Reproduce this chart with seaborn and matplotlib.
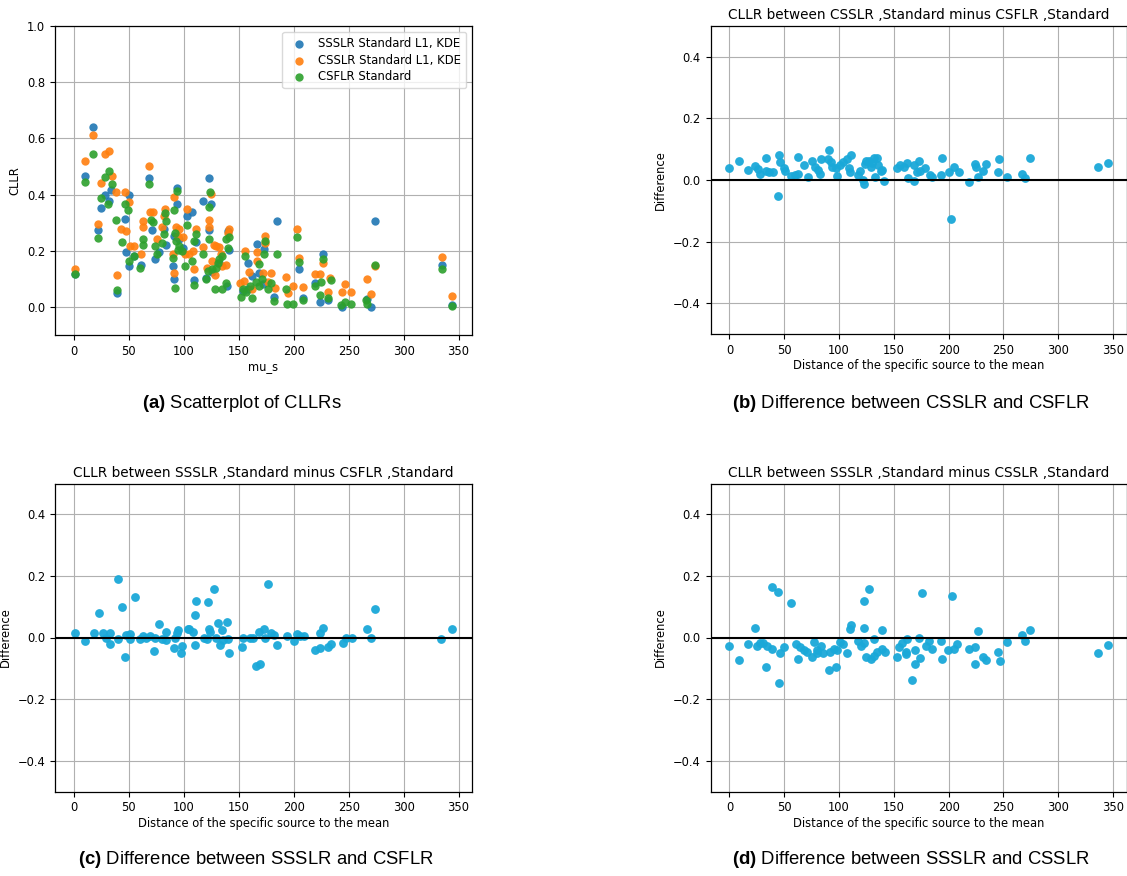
import matplotlib
matplotlib.use("Agg")
import matplotlib.pyplot as plt
import seaborn as sns
import pandas as pd

# ---------------- data ----------------
# Panel (a): CLLR values against mu_s
csflr_x = [0.6, 10, 17, 22, 25, 28, 31, 32, 35, 38.5, 39, 44, 46, 49, 50, 55, 60, 63, 63, 68, 70, 72, 74, 76,
           80, 82, 83, 84, 90, 91, 92, 92, 93, 94, 95, 96, 98, 101, 103, 107, 109, 109, 111, 117, 120, 122,
           123, 123, 124, 126, 128, 129, 131, 132, 135, 135, 138, 138, 140, 141, 152, 154, 156, 157, 160,
           162, 166, 168, 168, 171, 173, 174, 177, 179, 182, 185, 193, 194, 199, 203, 205, 208, 219, 224,
           225, 227, 231, 234, 243, 247, 252, 266, 267, 274, 335, 344]
csflr_y = [0.116, 0.443, 0.544, 0.246, 0.388, 0.461, 0.368, 0.485, 0.437, 0.309, 0.059, 0.232, 0.366, 0.346,
           0.163, 0.183, 0.139, 0.240, 0.219, 0.437, 0.311, 0.301, 0.216, 0.187, 0.228, 0.258, 0.334, 0.305,
           0.175, 0.344, 0.069, 0.264, 0.234, 0.411, 0.204, 0.216, 0.199, 0.145, 0.293, 0.163, 0.234, 0.077,
           0.258, 0.187, 0.098, 0.128, 0.243, 0.356, 0.409, 0.134, 0.063, 0.139, 0.157, 0.169, 0.063, 0.181,
           0.086, 0.240, 0.210, 0.249, 0.035, 0.063, 0.181, 0.053, 0.074, 0.030, 0.089, 0.074, 0.154, 0.098,
           0.187, 0.234, 0.063, 0.086, 0.021, 0.187, 0.065, 0.012, 0.012, 0.249, 0.161, 0.024, 0.074, 0.041,
           0.089, 0.169, 0.030, 0.095, 0.006, 0.019, 0.009, 0.024, 0.009, 0.148, 0.136, 0.004]

csslr_x = [0.6, 10, 17, 22, 25, 28, 32, 35, 38, 39, 43, 46, 47, 50, 51, 55, 61, 63, 63, 68, 69, 72, 76, 80,
           82, 83, 91, 91, 90, 93, 95, 96, 99, 101, 103, 105, 108, 109, 111, 117, 121, 123, 123, 125, 126,
           127, 128, 129, 132, 134, 135, 138, 141, 140, 151, 155, 156, 159, 162, 167, 167, 172, 174, 174,
           177, 179, 183, 193, 195, 199, 203, 205, 208, 219, 224, 227, 231, 233, 244, 247, 252, 267, 270,
           274, 335, 344]
csslr_y = [0.134, 0.520, 0.612, 0.296, 0.441, 0.544, 0.556, 0.465, 0.409, 0.112, 0.278, 0.409, 0.272, 0.374,
           0.216, 0.216, 0.190, 0.307, 0.284, 0.502, 0.338, 0.337, 0.242, 0.284, 0.325, 0.349, 0.391, 0.122,
           0.190, 0.284, 0.252, 0.278, 0.249, 0.189, 0.349, 0.187, 0.199, 0.134, 0.278, 0.214, 0.139, 0.309,
           0.284, 0.402, 0.163, 0.219, 0.112, 0.216, 0.214, 0.187, 0.145, 0.148, 0.278, 0.264, 0.086, 0.092,
           0.199, 0.124, 0.065, 0.195, 0.163, 0.122, 0.252, 0.228, 0.089, 0.119, 0.069, 0.106, 0.051, 0.074,
           0.278, 0.173, 0.072, 0.116, 0.116, 0.157, 0.053, 0.104, 0.053, 0.083, 0.054, 0.098, 0.047, 0.145,
           0.178, 0.039]

ssslr_x = [0.6, 10, 17, 22, 25, 28, 32, 34, 39, 46, 47, 50, 50, 55, 61, 68, 71, 74, 77, 82, 84, 90, 91, 91,
           94, 94, 96, 99, 103, 107, 109, 111, 117, 120, 123, 123, 125, 126, 132, 139, 140, 141, 154, 158,
           158, 162, 167, 168, 172, 173, 185, 182, 205, 208, 219, 224, 227, 231, 244, 267, 270, 274, 335, 344]
ssslr_y = [0.116, 0.467, 0.639, 0.275, 0.352, 0.400, 0.378, 0.417, 0.051, 0.314, 0.195, 0.400, 0.145, 0.181,
           0.149, 0.459, 0.275, 0.171, 0.195, 0.278, 0.219, 0.145, 0.098, 0.254, 0.423, 0.368, 0.240, 0.210,
           0.325, 0.338, 0.095, 0.230, 0.378, 0.104, 0.459, 0.275, 0.368, 0.124, 0.157, 0.074, 0.270, 0.202,
           0.057, 0.157, 0.065, 0.110, 0.225, 0.119, 0.083, 0.207, 0.305, 0.035, 0.136, 0.033, 0.086, 0.018,
           0.190, 0.025, 0.001, 0.027, 0.001, 0.305, 0.148, 0.006]

series_names = ["SSSLR Standard L1, KDE", "CSSLR Standard L1, KDE", "CSFLR Standard"]

# Panel (b): CSSLR - CSFLR
diff_b_x = [0, 9, 17, 23, 26, 28, 33, 33, 36, 40, 45, 46, 44, 50, 51, 56, 60, 63, 63, 68, 72, 75, 78, 81, 83,
            84, 90, 91, 93, 94, 97, 98, 101, 104, 107, 111, 109, 110, 117, 119, 122, 123, 124, 125, 127, 129,
            130, 132, 133, 135, 136, 138, 139, 141, 153, 156, 159, 162, 163, 168, 168, 171, 173, 174, 178,
            183, 185, 194, 193, 200, 202, 205, 209, 219, 224, 225, 227, 231, 234, 245, 246, 253, 267, 270,
            274, 336, 345]
diff_b_y = [0.038, 0.062, 0.031, 0.046, 0.035, 0.019, 0.072, 0.029, 0.025, 0.027, 0.081, 0.058, -0.051, 0.038,
            0.029, 0.013, 0.016, 0.076, 0.019, 0.049, 0.011, 0.062, 0.043, 0.032, 0.019, 0.067, 0.069, 0.097,
            0.057, 0.043, 0.038, 0.013, 0.049, 0.059, 0.067, 0.081, 0.038, 0.027, 0.016, 0.030, 0.000, -0.013,
            0.051, 0.062, 0.063, 0.043, 0.056, 0.070, 0.011, 0.073, 0.049, 0.029, 0.032, -0.003, 0.038, 0.049,
            0.043, 0.054, 0.008, 0.049, -0.003, 0.027, 0.063, 0.029, 0.038, 0.016, 0.011, 0.073, 0.016, 0.027,
            -0.126, 0.043, 0.025, -0.006, 0.052, 0.043, 0.011, 0.029, 0.052, 0.027, 0.067, 0.011, 0.019, 0.008,
            0.070, 0.043, 0.054]

# Panel (c): SSSLR - CSFLR
diff_c_x = [1, 10, 18, 23, 26, 29, 33, 33, 40, 40, 44, 46, 47, 51, 51, 56, 60, 63, 66, 69, 73, 74, 77, 80, 84,
            84, 91, 92, 94, 95, 97, 98, 104, 105, 108, 110, 110, 111, 118, 121, 122, 123, 124, 127, 129, 131,
            133, 135, 136, 139, 140, 141, 153, 154, 160, 163, 166, 168, 169, 173, 174, 177, 179, 182, 185,
            194, 200, 203, 206, 209, 219, 224, 224, 227, 231, 234, 245, 248, 253, 267, 270, 274, 334, 344]
diff_c_y = [0.013, -0.011, 0.013, 0.080, 0.015, 0.000, 0.015, -0.021, 0.189, -0.006, 0.100, -0.064, 0.007,
            0.011, -0.006, 0.130, -0.005, 0.004, 0.000, 0.005, -0.043, -0.003, 0.043, -0.006, 0.018, -0.009,
            -0.035, -0.003, 0.013, 0.024, -0.051, -0.028, 0.029, 0.026, 0.018, 0.072, -0.025, 0.120, 0.000,
            -0.006, 0.114, 0.029, 0.018, 0.157, -0.003, 0.047, -0.025, 0.024, -0.009, 0.050, -0.006, -0.051,
            -0.030, 0.000, 0.000, 0.000, -0.092, 0.018, -0.087, 0.027, -0.003, 0.175, 0.015, 0.007, -0.025,
            0.005, -0.011, 0.010, 0.005, 0.005, -0.041, -0.035, 0.013, 0.032, -0.032, -0.021, -0.019, -0.003,
            -0.003, 0.027, 0.000, 0.094, -0.006, 0.029]

# Panel (d): SSSLR - CSSLR
diff_d_x = [0, 9, 17, 23, 25, 28, 31, 33, 34, 39, 39, 44, 45, 46, 50, 56, 61, 63, 64, 68, 71, 75, 77, 80, 80,
            84, 85, 91, 92, 95, 97, 98, 101, 104, 107, 110, 111, 117, 120, 123, 123, 123, 125, 127, 129, 132,
            132, 135, 139, 139, 142, 153, 155, 157, 162, 161, 167, 169, 169, 173, 161, 174, 176, 179, 182,
            185, 193, 194, 199, 203, 205, 208, 219, 224, 224, 227, 231, 234, 245, 247, 253, 267, 270, 274,
            336, 345]
diff_d_y = [-0.028, -0.073, -0.022, 0.032, -0.028, -0.017, -0.019, -0.097, -0.028, -0.037, 0.163, 0.149,
            -0.148, -0.051, -0.032, 0.112, -0.022, -0.070, -0.030, -0.041, -0.048, -0.064, -0.016, -0.041,
            -0.051, -0.028, -0.051, -0.105, -0.046, -0.037, -0.096, -0.041, -0.016, -0.022, -0.051, 0.027,
            0.040, -0.012, -0.028, 0.118, 0.032, -0.017, -0.062, 0.159, -0.070, -0.005, -0.060, -0.046, 0.024,
            -0.037, -0.048, -0.064, -0.030, -0.017, -0.006, -0.048, -0.139, -0.087, -0.041, 0.000, -0.054,
            -0.067, 0.143, -0.028, -0.011, -0.037, -0.012, -0.070, -0.041, 0.136, -0.038, -0.021, -0.037,
            -0.032, -0.087, 0.021, -0.062, -0.073, -0.046, -0.075, -0.016, 0.007, -0.011, 0.024, -0.051,
            -0.025]

diff_titles = ["CLLR between CSSLR ,Standard minus CSFLR ,Standard",
               "CLLR between SSSLR ,Standard minus CSFLR ,Standard",
               "CLLR between SSSLR ,Standard minus CSSLR ,Standard"]
captions = [("(a)", "Scatterplot of CLLRs"),
            ("(b)", "Difference between CSSLR and CSFLR"),
            ("(c)", "Difference between SSSLR and CSFLR"),
            ("(d)", "Difference between SSSLR and CSSLR")]

# ---------------- style ----------------
sns.set_style("ticks")
plt.rcParams.update({
    "font.family": ["DejaVu Sans"],
    "text.color": "black",
    "axes.labelcolor": "black",
    "axes.edgecolor": "black",
    "axes.linewidth": 0.9,
    "grid.color": "#b0b0b0",
    "grid.linewidth": 0.8,
    "xtick.color": "black",
    "ytick.color": "black",
    "xtick.direction": "out",
    "ytick.direction": "out",
    "xtick.major.size": 3.5,
    "ytick.major.size": 3.5,
    "mathtext.fontset": "custom",
    "mathtext.bf": "Liberation Sans:bold",
    "mathtext.rm": "Liberation Sans",
})

FS = 8.3
fig = plt.figure(figsize=(11.27, 8.76), dpi=100)

W, H = 1127, 876
def rect(l, r, t, b):
    return [l / W, 1 - b / H, (r - l) / W, (b - t) / H]

ax_a = fig.add_axes(rect(55, 472, 26, 335))
ax_b = fig.add_axes(rect(710.5, 1126.5, 26, 334))
ax_c = fig.add_axes(rect(55, 472, 483.5, 791.5))
ax_d = fig.add_axes(rect(710.5, 1126.5, 483.5, 791.5))

palette = sns.color_palette("tab10")
df_a = [pd.DataFrame({"mu_s": ssslr_x, "CLLR": ssslr_y}),
        pd.DataFrame({"mu_s": csslr_x, "CLLR": csslr_y}),
        pd.DataFrame({"mu_s": csflr_x, "CLLR": csflr_y})]
for d, name, col in zip(df_a, series_names, palette[:3]):
    sns.scatterplot(data=d, x="mu_s", y="CLLR", ax=ax_a, color=col, label=name,
                    s=36, linewidth=0, alpha=0.9)
ax_a.set_xlim(-17.25, 362.25)
ax_a.set_ylim(-0.1, 1.0)
ax_a.set_xticks(range(0, 351, 50))
ax_a.set_yticks([0.0, 0.2, 0.4, 0.6, 0.8, 1.0])
ax_a.grid(True)
ax_a.set_xlabel("mu_s", fontsize=FS, labelpad=2)
ax_a.set_ylabel("CLLR", fontsize=FS, labelpad=4)
ax_a.tick_params(labelsize=FS)
leg = ax_a.legend(loc="upper right", fontsize=FS + 0.1, frameon=True, borderpad=0.45,
                  handletextpad=0.6, labelspacing=0.3, scatterpoints=1)
leg.get_frame().set_edgecolor("#d0d0d0")

diff_color = "#1aa8d8"
for ax, xs, ys, title in zip([ax_b, ax_c, ax_d],
                             [diff_b_x, diff_c_x, diff_d_x],
                             [diff_b_y, diff_c_y, diff_d_y], diff_titles):
    d = pd.DataFrame({"dist": xs, "diff": ys})
    sns.scatterplot(data=d, x="dist", y="diff", ax=ax, color=diff_color, s=40, linewidth=0, alpha=0.95)
    ax.axhline(0, color="black", lw=1.5, zorder=1)
    ax.set_xlim(-17.25, 362.25)
    ax.set_ylim(-0.5, 0.5)
    ax.set_xticks(range(0, 351, 50))
    ax.set_yticks([-0.4, -0.2, 0.0, 0.2, 0.4])
    ax.grid(True)
    ax.set_axisbelow(True)
    ax.set_title(title, fontsize=9.8, pad=5)
    ax.set_xlabel("Distance of the specific source to the mean", fontsize=FS, labelpad=2)
    ax.set_ylabel("Difference", fontsize=FS, labelpad=4)
    ax.tick_params(labelsize=FS)

cap_pos = [(242, 404), (911, 404), (256, 860), (911, 860)]
for (lab, txt), (cx, cy) in zip(captions, cap_pos):
    fig.text(cx / W, 1 - cy / H, r"$\mathbf{" + lab + "}$ " + txt, ha="center", va="center",
             fontsize=13.3, family="Liberation Sans")

fig.savefig("out.png", dpi=100)
